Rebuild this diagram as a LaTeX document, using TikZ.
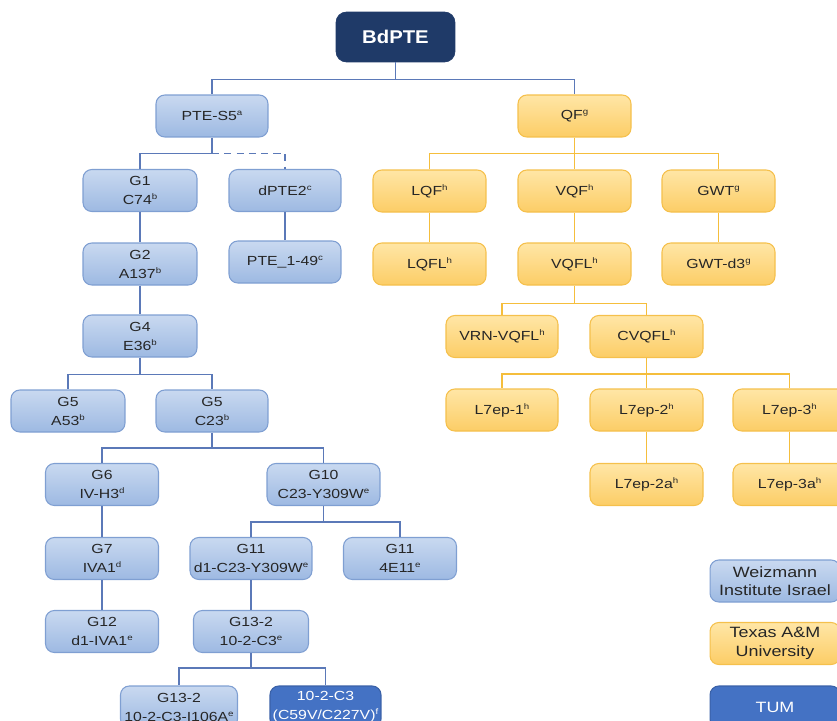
\documentclass[tikz,border=0pt]{standalone}
\usepackage{fontspec}
\setmainfont{Liberation Sans}[FakeStretch=1.2]
\newfontfamily\titlefont{Liberation Sans}[FakeStretch=1.1]
\newcommand\sups[1]{\raisebox{0.38em}{\fontsize{4.6}{5}\selectfont #1}}
\definecolor{btop}{HTML}{C9D9F0}
\definecolor{bbot}{HTML}{9DB9E2}
\definecolor{bbrd}{HTML}{7F9FD2}
\definecolor{ytop}{HTML}{FFE6A6}
\definecolor{ybot}{HTML}{FCCD66}
\definecolor{ybrd}{HTML}{F5C04C}
\definecolor{navy}{HTML}{1F3A68}
\definecolor{tumblue}{HTML}{4472C4}
\definecolor{blin}{HTML}{5B79B8}
\definecolor{ylin}{HTML}{F5BE3C}
\definecolor{txt}{HTML}{262626}
\begin{document}
\begin{tikzpicture}[x=0.02cm,y=-0.02cm,
  box/.style={rounded corners=5pt, line width=0.6pt, align=center, inner sep=1pt,
    minimum width=2.26cm, minimum height=0.84cm, text=txt,
    font=\fontsize{7.5}{10.8}\selectfont},
  bbox/.style={box, draw=bbrd, top color=btop, bottom color=bbot},
  ybox/.style={box, draw=ybrd, top color=ytop, bottom color=ybot},
  tbox/.style={box, draw=tumblue!85!black, fill=tumblue, text=white},
  lbox/.style={font=\fontsize{8.5}{10.5}\selectfont, minimum width=2.6cm},
  bl/.style={draw=blin, line width=0.8pt},
  yl/.style={draw=ylin, line width=0.8pt}]
\useasboundingbox (0,0) rectangle (837,720);
\clip (0,0) rectangle (837,720);

% root
\node[rounded corners=6pt, fill=navy, draw=navy, minimum width=2.38cm, minimum height=1.0cm,
  text=white, font=\titlefont\fontsize{10.5}{12}\selectfont\bfseries] (bd) at (395.5,37) {BdPTE};

% Weizmann branch
\node[bbox, minimum width=2.24cm] (pte) at (212,116) {PTE-S5\sups{a}};
\node[bbox, minimum width=2.28cm] (g1) at (140,190.5) {G1\\C74\sups{b}};
\node[bbox, minimum width=2.24cm] (dpte) at (285,190.5) {dPTE2\sups{c}};
\node[bbox, minimum width=2.28cm] (g2) at (140,264) {G2\\A137\sups{b}};
\node[bbox, minimum width=2.24cm] (p149) at (285,262) {PTE\_1-49\sups{c}};
\node[bbox, minimum width=2.28cm] (g4) at (140,336) {G4\\E36\sups{b}};
\node[bbox, minimum width=2.28cm] (a53) at (68,411) {G5\\A53\sups{b}};
\node[bbox, minimum width=2.24cm] (c23) at (212,411) {G5\\C23\sups{b}};
\node[bbox] (g6) at (102,484.5) {G6\\IV-H3\sups{d}};
\node[bbox] (g10) at (323.5,484.5) {G10\\C23-Y309W\sups{e}};
\node[bbox] (g7) at (102,558.5) {G7\\IVA1\sups{d}};
\node[bbox, minimum width=2.44cm] (g11a) at (251,558.5) {G11\\d1-C23-Y309W\sups{e}};
\node[bbox] (g11b) at (400,558.5) {G11\\4E11\sups{e}};
\node[bbox] (g12) at (102,631.5) {G12\\d1-IVA1\sups{e}};
\node[bbox, minimum width=2.3cm] (g13) at (251,631.5) {G13-2\\10-2-C3\sups{e}};
\node[bbox, minimum width=2.34cm] (g13a) at (179,707) {G13-2\\10-2-C3-I106A\sups{e}};
\node[tbox, minimum width=2.22cm] (g13b) at (325.5,707) {10-2-C3\\(C59V/C227V)\sups{f}};

% Texas branch
\node[ybox] (qf) at (574.5,116) {QF\sups{g}};
\node[ybox] (lqf) at (429.5,191) {LQF\sups{h}};
\node[ybox] (vqf) at (574.5,191) {VQF\sups{h}};
\node[ybox] (gwt) at (718.5,191) {GWT\sups{g}};
\node[ybox] (lqfl) at (429.5,264) {LQFL\sups{h}};
\node[ybox] (vqfl) at (574.5,264) {VQFL\sups{h}};
\node[ybox] (gwtd) at (718.5,264) {GWT-d3\sups{g}};
\node[ybox, minimum width=2.24cm] (vrn) at (502,336.5) {VRN-VQFL\sups{h}};
\node[ybox] (cvq) at (646.5,336.5) {CVQFL\sups{h}};
\node[ybox, minimum width=2.24cm] (l1) at (502,410) {L7ep-1\sups{h}};
\node[ybox] (l2) at (646.5,410) {L7ep-2\sups{h}};
\node[ybox] (l3) at (789.5,410) {L7ep-3\sups{h}};
\node[ybox] (l2a) at (646.5,484.5) {L7ep-2a\sups{h}};
\node[ybox] (l3a) at (789.5,484.5) {L7ep-3a\sups{h}};

% legend
\node[bbox, lbox] (lw) at (775,581) {Weizmann\\Institute Israel};
\node[ybox, lbox] (lt) at (775,643.5) {Texas A\&M\\University};
\node[tbox, lbox] (lu) at (775,707) {TUM};

% connectors
\draw[bl] (bd.south) -- ++(0,17) -| (pte.north);
\draw[bl] (bd.south) ++(0,17) -| (qf.north);
\draw[bl] (pte.south) -- ++(0,16) -| (g1.north);
\draw[bl, dashed, dash pattern=on 4pt off 3pt] (pte.south) ++(0,16) -| (dpte.north);
\draw[bl] (g1) -- (g2);
\draw[bl] (g2) -- (g4);
\draw[bl] (dpte) -- (p149);
\draw[bl] (g4.south) -- ++(0,17) -| (a53.north);
\draw[bl] (g4.south) ++(0,17) -| (c23.north);
\draw[bl] (c23.south) -- ++(0,15.5) -| (g6.north);
\draw[bl] (c23.south) ++(0,15.5) -| (g10.north);
\draw[bl] (g6) -- (g7);
\draw[bl] (g7) -- (g12);
\draw[bl] (g10.south) -- ++(0,16) -| (g11a.north);
\draw[bl] (g10.south) ++(0,16) -| (g11b.north);
\draw[bl] (g11a) -- (g13);
\draw[bl] (g13.south) -- ++(0,15) -| (g13a.north);
\draw[bl] (g13.south) ++(0,15) -| (g13b.north);

\draw[yl] (qf.south) -- ++(0,16) -| (lqf.north);
\draw[yl] (qf.south) ++(0,16) -| (vqf.north);
\draw[yl] (qf.south) ++(0,16) -| (gwt.north);
\draw[yl] (lqf) -- (lqfl);
\draw[yl] (vqf) -- (vqfl);
\draw[yl] (gwt) -- (gwtd);
\draw[yl] (vqfl.south) -- ++(0,18) -| (vrn.north);
\draw[yl] (vqfl.south) ++(0,18) -| (cvq.north);
\draw[yl] (cvq.south) -- ++(0,16) -| (l1.north);
\draw[yl] (cvq.south) ++(0,16) -| (l2.north);
\draw[yl] (cvq.south) ++(0,16) -| (l3.north);
\draw[yl] (l2) -- (l2a);
\draw[yl] (l3) -- (l3a);
\end{tikzpicture}
\end{document}
